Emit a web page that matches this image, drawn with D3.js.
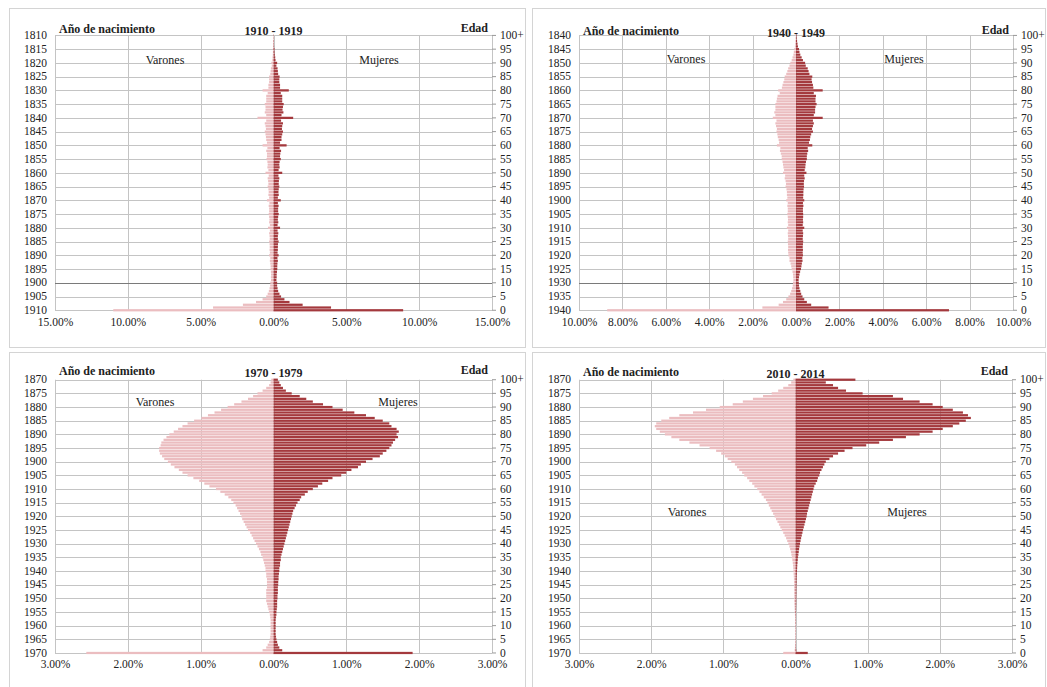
<!DOCTYPE html>
<html>
<head>
<meta charset="utf-8">
<script src="https://cdn.jsdelivr.net/npm/d3@7"></script>
<style>
  body { margin: 0; background: #fff; }
  svg text { font-family: "Liberation Serif", "Times New Roman", "DejaVu Serif", serif; fill: #222; }
</style>
</head>
<body>
<svg id="chart" width="1047" height="687"></svg>
<script>
// ages 0..100 (100 = "100+"), values in % of deaths
const ages = d3.range(0, 101);
const ageTicks = [0, 5, 10, 15, 20, 25, 30, 35, 40, 45, 50, 55, 60, 65, 70, 75, 80, 85, 90, 95, 100];

const titles = ["1910 - 1919", "1940 - 1949", "1970 - 1979", "2010 - 2014"];
const baseYears = [1910, 1940, 1970, 1970];
const xTicks1 = [-15, -10, -5, 0, 5, 10, 15];
const xTicks2 = [-10, -8, -6, -4, -2, 0, 2, 4, 6, 8, 10];
const xTicks3 = [-3, -2, -1, 0, 1, 2, 3];

const varones1910 = [11.0, 4.15, 2.1, 1.2, 0.75, 0.5, 0.4, 0.32, 0.27, 0.23,
  0.22, 0.17, 0.18, 0.17, 0.18, 0.2, 0.2, 0.22, 0.25, 0.22,
  0.3, 0.25, 0.27, 0.26, 0.27, 0.3, 0.26, 0.27, 0.3, 0.25,
  0.38, 0.25, 0.3, 0.28, 0.3, 0.33, 0.3, 0.3, 0.33, 0.28,
  0.45, 0.3, 0.35, 0.33, 0.35, 0.4, 0.35, 0.37, 0.4, 0.33,
  0.55, 0.35, 0.42, 0.4, 0.42, 0.48, 0.45, 0.45, 0.5, 0.42,
  0.75, 0.45, 0.5, 0.52, 0.55, 0.6, 0.52, 0.55, 0.6, 0.5,
  1.1, 0.5, 0.6, 0.55, 0.55, 0.6, 0.5, 0.5, 0.5, 0.4,
  0.75, 0.35, 0.35, 0.3, 0.3, 0.3, 0.22, 0.2, 0.18, 0.12,
  0.15, 0.08, 0.07, 0.05, 0.04, 0.04, 0.02, 0.02, 0.015, 0.01,
  0.01];
const mujeres1910 = [8.9, 3.95, 2.0, 1.1, 0.75, 0.52, 0.41, 0.32, 0.28, 0.25,
  0.25, 0.2, 0.22, 0.22, 0.24, 0.26, 0.26, 0.27, 0.3, 0.27,
  0.35, 0.28, 0.3, 0.3, 0.31, 0.35, 0.3, 0.3, 0.33, 0.28,
  0.45, 0.28, 0.33, 0.3, 0.32, 0.36, 0.32, 0.32, 0.35, 0.3,
  0.5, 0.3, 0.36, 0.34, 0.36, 0.4, 0.36, 0.37, 0.4, 0.34,
  0.6, 0.35, 0.42, 0.4, 0.42, 0.5, 0.45, 0.47, 0.52, 0.42,
  0.9, 0.45, 0.55, 0.55, 0.6, 0.65, 0.58, 0.6, 0.65, 0.52,
  1.35, 0.55, 0.68, 0.62, 0.65, 0.7, 0.6, 0.6, 0.6, 0.5,
  1.05, 0.45, 0.45, 0.4, 0.4, 0.42, 0.32, 0.3, 0.28, 0.2,
  0.25, 0.14, 0.12, 0.09, 0.07, 0.07, 0.04, 0.03, 0.03, 0.02,
  0.02];

const varones1940 = [8.7, 1.55, 0.8, 0.6, 0.45, 0.35, 0.27, 0.22, 0.18, 0.15,
  0.14, 0.12, 0.13, 0.14, 0.16, 0.2, 0.22, 0.25, 0.3, 0.3,
  0.35, 0.36, 0.37, 0.36, 0.37, 0.38, 0.36, 0.37, 0.38, 0.36,
  0.42, 0.36, 0.38, 0.37, 0.38, 0.4, 0.38, 0.38, 0.4, 0.38,
  0.45, 0.4, 0.42, 0.42, 0.44, 0.48, 0.46, 0.48, 0.52, 0.5,
  0.6, 0.55, 0.58, 0.6, 0.62, 0.66, 0.66, 0.7, 0.74, 0.72,
  0.88, 0.78, 0.8, 0.84, 0.86, 0.9, 0.88, 0.92, 0.95, 0.9,
  1.07, 0.95, 1.0, 0.95, 0.95, 0.95, 0.9, 0.88, 0.85, 0.75,
  0.82, 0.65, 0.62, 0.58, 0.54, 0.52, 0.45, 0.4, 0.36, 0.3,
  0.26, 0.2, 0.16, 0.12, 0.1, 0.08, 0.05, 0.04, 0.03, 0.02,
  0.015];
const mujeres1940 = [7.05, 1.5, 0.7, 0.5, 0.38, 0.3, 0.24, 0.2, 0.16, 0.14,
  0.13, 0.12, 0.14, 0.16, 0.19, 0.23, 0.25, 0.27, 0.3, 0.29,
  0.32, 0.31, 0.32, 0.31, 0.32, 0.33, 0.31, 0.32, 0.33, 0.31,
  0.38, 0.31, 0.33, 0.32, 0.33, 0.33, 0.32, 0.32, 0.34, 0.32,
  0.38, 0.33, 0.34, 0.34, 0.35, 0.37, 0.36, 0.37, 0.4, 0.38,
  0.48, 0.4, 0.43, 0.44, 0.46, 0.5, 0.5, 0.52, 0.56, 0.54,
  0.75, 0.6, 0.64, 0.66, 0.7, 0.78, 0.74, 0.78, 0.82, 0.78,
  1.23, 0.82, 0.88, 0.88, 0.9, 0.95, 0.9, 0.9, 0.92, 0.82,
  1.23, 0.8, 0.78, 0.74, 0.72, 0.75, 0.62, 0.58, 0.54, 0.45,
  0.42, 0.32, 0.26, 0.2, 0.16, 0.14, 0.09, 0.07, 0.05, 0.03,
  0.03];

const varones1970 = [2.57, 0.15, 0.1, 0.08, 0.06, 0.05, 0.045, 0.04, 0.04, 0.04,
  0.04, 0.04, 0.04, 0.045, 0.05, 0.06, 0.07, 0.08, 0.09, 0.1,
  0.1, 0.1, 0.1, 0.1, 0.09, 0.09, 0.09, 0.09, 0.1, 0.1,
  0.11, 0.11, 0.12, 0.13, 0.14, 0.15, 0.17, 0.18, 0.2, 0.22,
  0.24, 0.26, 0.28, 0.3, 0.32, 0.35, 0.37, 0.39, 0.41, 0.43,
  0.44, 0.46, 0.48, 0.5, 0.52, 0.55, 0.58, 0.62, 0.67, 0.73,
  0.79, 0.88, 0.95, 1.02, 1.1, 1.18, 1.25, 1.3, 1.36, 1.41,
  1.45, 1.5, 1.53, 1.56, 1.57, 1.57, 1.55, 1.54, 1.51, 1.47,
  1.43, 1.37, 1.31, 1.25, 1.18, 1.09, 0.99, 0.9, 0.81, 0.72,
  0.63, 0.54, 0.44, 0.35, 0.28, 0.22, 0.15, 0.1, 0.06, 0.04,
  0.03];
const mujeres1970 = [1.91, 0.12, 0.08, 0.06, 0.05, 0.04, 0.035, 0.03, 0.03, 0.03,
  0.03, 0.03, 0.03, 0.035, 0.04, 0.04, 0.045, 0.05, 0.05, 0.05,
  0.055, 0.055, 0.06, 0.06, 0.06, 0.065, 0.065, 0.07, 0.07, 0.075,
  0.08, 0.08, 0.09, 0.09, 0.1, 0.1, 0.11, 0.12, 0.13, 0.14,
  0.15, 0.16, 0.17, 0.18, 0.19, 0.2, 0.21, 0.22, 0.23, 0.24,
  0.25, 0.26, 0.27, 0.29, 0.31, 0.33, 0.36, 0.38, 0.43, 0.47,
  0.54, 0.61, 0.67, 0.75, 0.81, 0.93, 1.0, 1.07, 1.16, 1.2,
  1.27, 1.36, 1.46, 1.5, 1.55, 1.59, 1.62, 1.64, 1.67, 1.71,
  1.69, 1.72, 1.69, 1.62, 1.59, 1.5, 1.39, 1.27, 1.11, 0.95,
  0.81, 0.68, 0.54, 0.45, 0.36, 0.25, 0.17, 0.13, 0.1, 0.08,
  0.06];

const varones2010 = [0.17, 0.012, 0.008, 0.006, 0.005, 0.005, 0.005, 0.005, 0.005, 0.005,
  0.005, 0.006, 0.006, 0.007, 0.008, 0.01, 0.012, 0.014, 0.016, 0.017,
  0.018, 0.018, 0.019, 0.019, 0.02, 0.02, 0.021, 0.022, 0.024, 0.026,
  0.028, 0.031, 0.034, 0.038, 0.043, 0.05, 0.057, 0.064, 0.074, 0.085,
  0.1, 0.115, 0.13, 0.15, 0.17, 0.19, 0.21, 0.23, 0.25, 0.27,
  0.29, 0.31, 0.33, 0.35, 0.37, 0.39, 0.41, 0.44, 0.47, 0.5,
  0.53, 0.57, 0.6, 0.64, 0.67, 0.71, 0.74, 0.78, 0.81, 0.84,
  0.89, 0.94, 0.98, 1.03, 1.1, 1.19, 1.33, 1.47, 1.61, 1.72,
  1.81, 1.88, 1.93, 1.95, 1.93, 1.86, 1.75, 1.61, 1.42, 1.24,
  1.05, 0.87, 0.73, 0.59, 0.45, 0.33, 0.24, 0.17, 0.1, 0.06,
  0.03];
const mujeres2010 = [0.17, 0.01, 0.006, 0.005, 0.004, 0.004, 0.004, 0.004, 0.004, 0.004,
  0.004, 0.005, 0.005, 0.005, 0.006, 0.007, 0.008, 0.009, 0.01, 0.01,
  0.011, 0.011, 0.012, 0.012, 0.013, 0.014, 0.015, 0.016, 0.017, 0.019,
  0.021, 0.023, 0.025, 0.028, 0.031, 0.035, 0.04, 0.045, 0.05, 0.056,
  0.063, 0.07, 0.078, 0.087, 0.096, 0.105, 0.115, 0.125, 0.135, 0.145,
  0.155, 0.16, 0.17, 0.18, 0.19, 0.2, 0.21, 0.22, 0.23, 0.24,
  0.25, 0.26, 0.28, 0.3, 0.31, 0.33, 0.34, 0.36, 0.38, 0.4,
  0.42, 0.47, 0.52, 0.59, 0.68, 0.79, 0.98, 1.16, 1.35, 1.53,
  1.72, 1.9, 2.04, 2.18, 2.27, 2.36, 2.43, 2.39, 2.32, 2.18,
  2.04, 1.9, 1.72, 1.49, 1.35, 0.93, 0.7, 0.59, 0.52, 0.42,
  0.83];

const colorVarones = "#ebbdc0";
const colorMujeres = "#a4393d";
const serif = "'Liberation Serif', 'Times New Roman', 'DejaVu Serif', serif";

const svg = d3.select("#chart");

const panels = [
  { box: [9, 8, 516, 339], x0: 55, x1: 492, y0: 34.3, y1: 311.4, ticks: xTicks1, max: 15,
    men: varones1910, women: mujeres1910, labY: 64, labX: [165, 379], titleY: 35, darkAge: 10 },
  { box: [532, 8, 513, 339], x0: 579, x1: 1013, y0: 34.3, y1: 311.4, ticks: xTicks2, max: 10,
    men: varones1940, women: mujeres1940, labY: 63, labX: [686, 904], titleY: 36.5, darkAge: 10 },
  { box: [9, 352, 516, 345], x0: 55, x1: 492, y0: 378.6, y1: 654.1, ticks: xTicks3, max: 3,
    men: varones1970, women: mujeres1970, labY: 406, labX: [155, 398], titleY: 377, darkAge: null },
  { box: [532, 352, 513, 345], x0: 579, x1: 1012, y0: 378.6, y1: 654.1, ticks: xTicks3, max: 3,
    men: varones2010, women: mujeres2010, labY: 516, labX: [687, 907], titleY: 378, darkAge: null }
];

panels.forEach((p, i) => {
  const g = svg.append("g");

  g.append("rect")
    .attr("x", p.box[0] + 0.5).attr("y", p.box[1] + 0.5)
    .attr("width", p.box[2]).attr("height", p.box[3])
    .attr("fill", "#fff").attr("stroke", "#d4d4d4");

  const x = d3.scaleLinear().domain([-p.max, p.max]).range([p.x0, p.x1]);
  const y = d3.scaleBand().domain(ages.slice().reverse()).range([p.y0, p.y1]).paddingInner(0.18);
  const yc = a => y(a) + y.bandwidth() / 2;

  // grid
  g.append("g").selectAll("line.v").data(p.ticks).join("line")
    .attr("x1", d => Math.round(x(d)) + 0.5).attr("x2", d => Math.round(x(d)) + 0.5)
    .attr("y1", yc(100)).attr("y2", yc(0))
    .attr("stroke", "#c4c4c4");
  g.append("g").selectAll("line.h").data(ageTicks).join("line")
    .attr("x1", p.x0).attr("x2", p.x1)
    .attr("y1", d => Math.round(yc(d)) + 0.5).attr("y2", d => Math.round(yc(d)) + 0.5)
    .attr("stroke", d => d === p.darkAge ? "#7a7a7a" : "#c4c4c4");

  // bars
  g.append("g").selectAll("rect").data(ages).join("rect")
    .attr("x", a => x(-p.men[a])).attr("y", a => y(a))
    .attr("width", a => x(0) - x(-p.men[a])).attr("height", y.bandwidth())
    .attr("fill", colorVarones);
  g.append("g").selectAll("rect").data(ages).join("rect")
    .attr("x", x(0)).attr("y", a => y(a))
    .attr("width", a => x(p.women[a]) - x(0)).attr("height", y.bandwidth())
    .attr("fill", colorMujeres);

  // left axis: birth year
  const left = g.append("g").attr("transform", `translate(${p.x0},0)`)
    .call(d3.axisLeft(y).tickValues(ageTicks).tickSize(0).tickPadding(8)
      .tickFormat(a => baseYears[i] - a));
  left.select(".domain").remove();

  // right axis: age
  const right = g.append("g").attr("transform", `translate(${p.x1},0)`)
    .call(d3.axisRight(y).tickValues(ageTicks).tickSize(4).tickPadding(4)
      .tickFormat(a => a === 100 ? "100+" : a));
  right.select(".domain").remove();
  right.selectAll("line").attr("stroke", "#999");

  // bottom axis
  const bottom = g.append("g").attr("transform", `translate(0,${p.y1})`)
    .call(d3.axisBottom(x).tickValues(p.ticks).tickSize(0).tickPadding(6)
      .tickFormat(d => d3.format(".2%")(Math.abs(d) / 100)));
  bottom.select(".domain").remove();

  g.selectAll("g").attr("font-family", serif);
  g.selectAll(".tick text").attr("font-size", 11.5)
    .style("font-family", serif).attr("fill", "#222");

  // titles
  const label = (tx, ty, anchor, bold, txt) => g.append("text")
    .attr("x", tx).attr("y", ty).attr("text-anchor", anchor)
    .attr("font-size", 12).attr("font-weight", bold ? "bold" : null)
    .style("font-family", serif).text(txt);

  label(p.x0 + 4, p.titleY - 2, "start", true, "Año de nacimiento");
  label(x(0), p.titleY, "middle", true, titles[i]);
  label(p.x1 - 4, p.titleY - 3, "end", true, "Edad");
  label(p.labX[0], p.labY, "middle", false, "Varones");
  label(p.labX[1], p.labY, "middle", false, "Mujeres");
});
</script>
</body>
</html>
